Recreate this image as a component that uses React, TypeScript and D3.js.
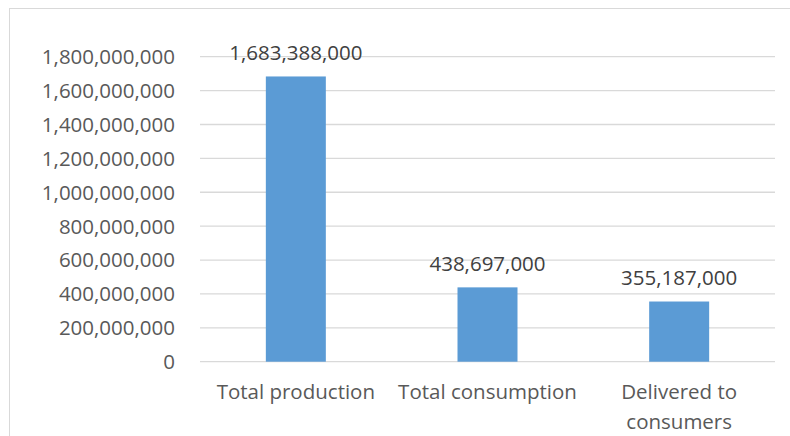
import React from "react";
import * as d3 from "d3";

const categories: string[][] = [["Total production"], ["Total consumption"], ["Delivered to", "consumers"]];
const values: number[] = [1683388000, 438697000, 355187000];
const yTicks: number[] = [0, 200000000, 400000000, 600000000, 800000000, 1000000000, 1200000000, 1400000000, 1600000000, 1800000000];

const W = 790;
const H = 436;
const FONT = "'Open Sans', sans-serif";
const FS = 20.5;

export default function App() {
  const plotLeft = 200;
  const plotRight = 775;
  const y = d3.scaleLinear().domain([0, 1800000000]).range([361.7, 56.7]);
  const x = d3.scaleBand<number>().domain(categories.map((_, i) => i)).range([plotLeft, plotRight]).paddingInner(0).paddingOuter(0);
  const barW = x.bandwidth() * 0.313;
  const fmt = d3.format(",");

  return (
    <svg width={W} height={H} style={{ position: "absolute", left: 0, top: 0, background: "#fff" }}>
      <rect x={9.5} y={8.5} width={900} height={600} fill="#fff" stroke="#D9D9D9" strokeWidth={1} />
      {yTicks.map((t) => (
        <g key={t}>
          <line x1={plotLeft} x2={plotRight} y1={y(t)} y2={y(t)} stroke="#D9D9D9" strokeWidth={1.3} />
          <text x={175} y={y(t)} dy="0.36em" textAnchor="end" fontFamily={FONT} fontSize={FS} fill="#595959">
            {fmt(t)}
          </text>
        </g>
      ))}
      {values.map((v, i) => {
        const cx = (x(i) as number) + x.bandwidth() / 2;
        return (
          <g key={i}>
            <rect x={cx - barW / 2} y={y(v)} width={barW} height={y(0) - y(v)} fill="#5B9BD5" />
            <text x={cx} y={y(v) - 24} dy="0.36em" textAnchor="middle" fontFamily={FONT} fontSize={FS} fill="#404040">
              {fmt(v)}
            </text>
            {categories[i].map((line, j) => (
              <text key={j} x={cx} y={392 + j * 30} dy="0.36em" textAnchor="middle" fontFamily={FONT} fontSize={FS} fill="#595959">
                {line}
              </text>
            ))}
          </g>
        );
      })}
    </svg>
  );
}
